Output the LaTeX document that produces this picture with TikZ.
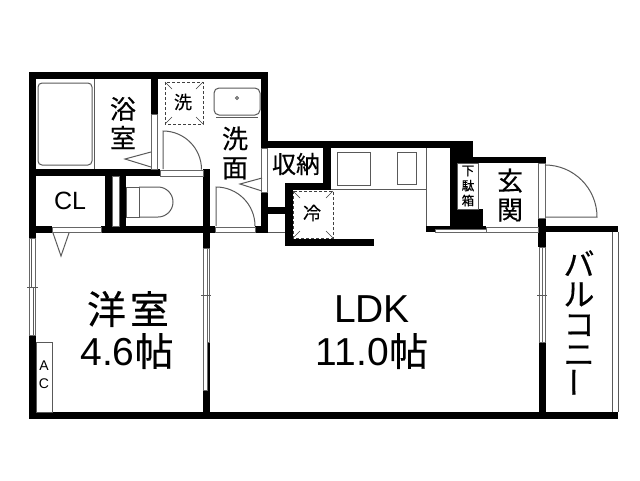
\documentclass[tikz,border=0pt]{standalone}
\usepackage{fontspec}
\setmainfont{Liberation Sans}
\newfontfamily\cjk[FakeBold=0.4]{Noto Sans CJK JP}
\usepackage{graphicx}
\begin{document}
\begin{tikzpicture}[x=1pt, y=-1pt, line width=0.8pt, every node/.style = {inner sep=0pt, align=center}]
	\tikzstyle{wall} = [fill=black, draw=none]
	\tikzstyle{thin} = [draw=black!65, line width=1pt]
	\tikzstyle{sash} = [draw=black!60, fill=white, line width=0.8pt]
	\tikzstyle{spaceline} = [draw=black!75, densely dashed, line width=0.9pt]
	\tikzstyle{spacetick} = [draw=black!75, line width=0.6pt]
	\tikzstyle{room} = [font=\cjk\fontsize{26}{29}\selectfont]
	\tikzstyle{big} = [font=\cjk\fontsize{39}{39}\selectfont]
	\tikzstyle{latin} = [font=\fontsize{39}{39}\selectfont]
	\useasboundingbox (0,0) rectangle (640,480);
	% outer and inner walls
	\fill[wall] (29,72) rectangle (268,79);
	\fill[wall] (29,72) rectangle (36,238);
	\fill[wall] (29,335) rectangle (36,419);
	\fill[wall] (29,412) rectangle (618,419);
	\fill[wall] (29,169) rectangle (160,176);
	\fill[wall] (151,72) rectangle (158,114);
	\fill[wall] (105,176) rectangle (112,226);
	\fill[wall] (119,176) rectangle (126,226);
	\fill[wall] (29,226) rectangle (52,233);
	\fill[wall] (101,226) rectangle (215,233);
	\fill[wall] (203,169) rectangle (210,248);
	\fill[wall] (207,342) rectangle (210,390);
	\fill[wall] (203,390) rectangle (210,419);
	\fill[wall] (255,226) rectangle (268,233);
	\fill[wall] (261,72) rectangle (268,141);
	\fill[wall] (261,192) rectangle (268,233);
	\fill[wall] (261,141) rectangle (473,148);
	\fill[wall] (268,207) rectangle (285,214);
	\fill[wall] (323,141) rectangle (331,190);
	\fill[wall] (285,183) rectangle (331,190);
	\fill[wall] (285,183) rectangle (293,246);
	\fill[wall] (285,239) rectangle (374,246);
	\fill[wall] (450,141) rectangle (473,163);
	\fill[wall] (450,157) rectangle (546,163);
	\fill[wall] (450,141) rectangle (457,226);
	\fill[wall] (450,209) rectangle (483,226);
	\fill[wall] (426,226) rectangle (486,229);
	\fill[wall] (426,226) rectangle (435,232);
	\fill[wall] (538,218) rectangle (546,247);
	\fill[wall] (546,226) rectangle (618,232);
	\fill[wall] (539,342) rectangle (546,419);
	% door sills and windows
	\draw[sash] (160,170) rectangle (203,176);
	\draw[sash] (52,227) rectangle (101,232);
	\draw[sash] (215,227) rectangle (255,232);
	\draw[sash] (486,227) rectangle (538,232);
	\draw[sash] (435,229) rectangle (486,232);
	\draw[sash] (151.5,114) rectangle (157.5,169);
	\draw[sash] (112,176) rectangle (119,226);
	\draw[sash] (261.5,148) rectangle (267.5,192);
	\draw[sash] (538.5,163) rectangle (545.5,218);
	\draw[sash] (29.5,238) rectangle (35.5,335);
	\draw[thin] (31.5,238) -- (31.5,287);
	\draw[thin] (33.5,287) -- (33.5,335);
	\draw[sash] (203.5,248) rectangle (207,390);
	\draw[sash] (207,248) rectangle (209.5,342);
	\draw[sash] (539.5,247) rectangle (542,342);
	\draw[sash] (542,247) rectangle (545.5,342);
	\draw[thin] (27,287) -- (38,287);
	\draw[thin] (201,295) -- (211,295);
	\draw[thin] (537,295) -- (547,295);
	\draw[thin] (268,232.5) -- (285,232.5);
	\draw[thin] (612,232) -- (612,412);
	\draw[thin] (618,232) -- (618,412);
	% door swings
	\draw[thin] (163,169) -- (163,131) arc[start angle=90, end angle=0, radius=38.5pt];
	\draw[thin] (216,226) -- (216,187) arc[start angle=90, end angle=0, radius=39pt];
	\draw[thin] (546,217) -- (597,217) arc[start angle=0, end angle=90, radius=52pt];
	\draw[thin] (53,233) -- (61,256) -- (69,233);
	\draw[thin] (151,152) -- (125,159) -- (151,167);
	\draw[thin] (262,178) -- (240,184) -- (262,191);
	% fixtures
	\draw[thin] (94,79) -- (94,169);
	\draw[thin, rounded corners=4pt] (38,83) rectangle (92,165);
	\draw[thin, rounded corners=5pt] (214,88) rectangle (260,115);
	\draw[thin] (216,117) -- (258,117);
	\draw[thin] (237,98) circle (1.5pt);
	\draw[thin] (126,187) rectangle (139,217);
	\draw[thin] (139,187) -- (158,187) arc[start angle=90, end angle=-90, radius=15pt] -- (139,217);
	\draw[thin] (337,152) rectangle (370,185);
	\draw[thin] (397,152) rectangle (416,184);
	\draw[thin] (331,189) -- (426,189);
	\draw[thin] (426,148) -- (426,226);
	\draw[thin] (36,342) rectangle (52.5,412);
	\draw[thin] (457,163) rectangle (478,209);
	% laundry and fridge spaces
	\draw[spaceline] (165,82) rectangle (203,124);
	\draw[spacetick] (165,82) -- (172,89) (203,82) -- (196,89) (165,124) -- (172,117) (203,124) -- (196,117);
	\draw[spaceline] (293,191) rectangle (333,238);
	\draw[spacetick] (293,191) -- (300,198) (333,191) -- (326,198) (293,238) -- (300,231) (333,238) -- (326,231);
	% labels
	\node[room] (bath) at (123,123) {浴\\室};
	\node[font=\fontsize{25}{25}\selectfont] (closet) at (70,201) {CL};
	\node[font=\cjk\fontsize{18}{18}\selectfont] (washer) at (183,102) {洗};
	\node[room] (wash) at (235,153) {洗\\面};
	\node[font=\cjk\fontsize{24}{24}\selectfont] (storage) at (296,164) {収納};
	\node[font=\cjk\fontsize{18}{18}\selectfont] (fridge) at (312,213) {冷};
	\node[font=\cjk\fontsize{12.5}{15}\selectfont] (shoes) at (468,186) {下\\駄\\箱};
	\node[room] (entry) at (510,195) {玄\\関};
	\node[big] (western) at (128,309) {洋\hspace{4pt}室};
	\node[latin] (westsize) at (127,351) {4.6{\cjk 帖}};
	\node[latin] (ldk) at (372,309) {LDK};
	\node[latin] (ldksize) at (372,351) {11.0{\cjk 帖}};
	\node[font=\fontsize{14}{18}\selectfont] (ac) at (44,375) {A\\C};
	\node[font=\cjk\fontsize{31}{30}\selectfont] (balcony) at (579,324) {バ\\ル\\コ\\ニ\\\rotatebox{90}{ー}};
\end{tikzpicture}
\end{document}
